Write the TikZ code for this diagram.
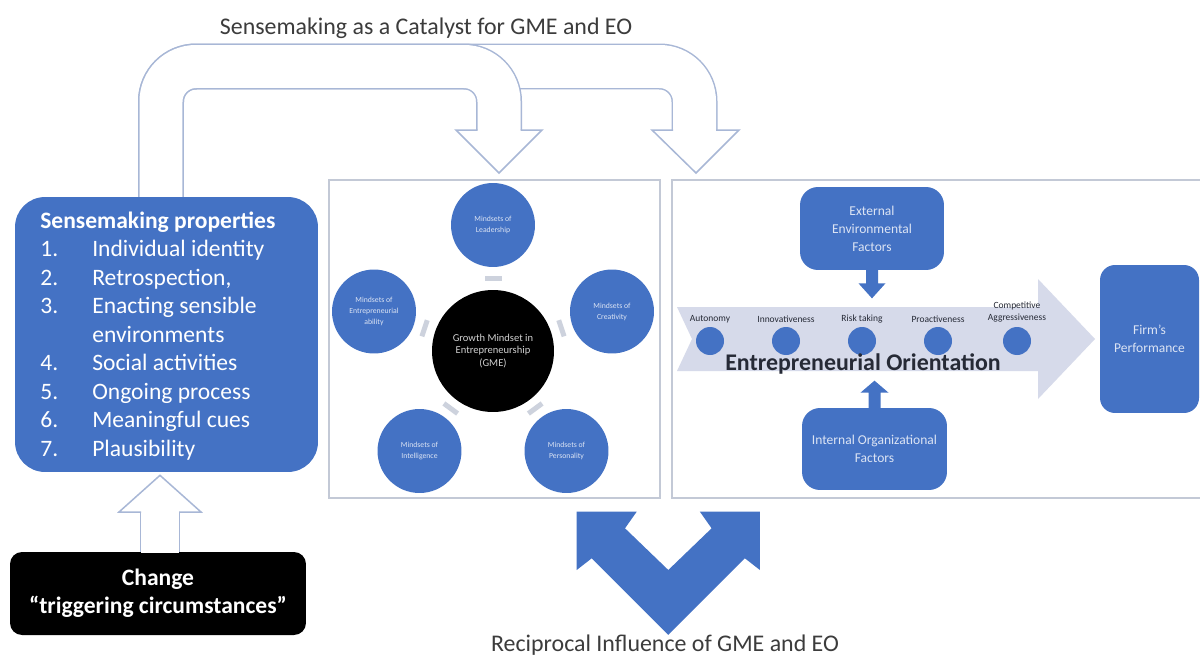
\documentclass[tikz,border=0pt]{standalone}
\usepackage{fontspec}
\setmainfont{Carlito}
\usetikzlibrary{calc}
\definecolor{blu}{HTML}{4472C4}
\definecolor{outl}{HTML}{A8B7D6}
\definecolor{panel}{HTML}{C3C9D6}
\definecolor{band}{HTML}{D6DAEA}
\definecolor{lighttxt}{HTML}{DCE4F4}
\definecolor{darktxt}{HTML}{262A36}
\definecolor{captxt}{HTML}{3C3C3C}
\definecolor{barcol}{HTML}{CDD2DD}
\begin{document}
\begin{tikzpicture}[x=0.02cm, y=-0.02cm,
  every node/.style={inner sep=0pt},
  bluebox/.style={fill=blu, text=lighttxt, align=center, font=\fontsize{7.7}{10.2}\selectfont},
  panelbox/.style={draw=panel, line width=0.9pt, fill=white},
  bcirc/.style={circle, fill=blu, minimum size=1.68cm, text=lighttxt, align=center, font=\fontsize{4.4}{6.2}\selectfont},
  dotc/.style={circle, fill=blu, minimum size=0.56cm},
  eolab/.style={text=darktxt, align=center, font=\fontsize{5.4}{6.6}\selectfont},
  linkbar/.style={fill=barcol, minimum width=0.1cm, minimum height=0.34cm, sloped},
  hollowhead/.style={draw=outl, line width=0.03cm, fill=white, line join=miter},
  shaftout/.style={draw=outl, line width=0.92cm, rounded corners=0.7cm},
  shaftin/.style={draw=white, line width=0.86cm, rounded corners=0.7cm},
  caption/.style={text=captxt, font=\fontsize{13.6}{16}\selectfont},
]
\useasboundingbox (0,0) rectangle (1200,659);
\fill[white] (0,0) rectangle (1200,659);

% captions
\node[caption] (title) at (426,28) {Sensemaking as a Catalyst for GME and EO};
\node[caption] (bottom) at (665,645) {Reciprocal Influence of GME and EO};

% U-turn arrow towards the EO panel (behind)
\draw[shaftout] (161,205) -- (161,66.5) -- (694.5,66.5) -- (694.5,130);
\draw[shaftin] (161,206) -- (161,66.5) -- (694.5,66.5) -- (694.5,131);
\path[hollowhead, draw=none] (673,130) -- (652,130) -- (696,173) -- (739,130) -- (716,130) -- cycle;
\draw[hollowhead, fill=none] (673,130) -- (652,130) -- (696,173) -- (739,130) -- (716,130);

% U-turn arrow towards the GME panel (front)
\draw[shaftout] (161,205) -- (161,66.5) -- (499,66.5) -- (499,130);
\draw[shaftin] (161,206) -- (161,66.5) -- (499,66.5) -- (499,131);
\path[hollowhead, draw=none] (477.5,130) -- (456,130) -- (499,173) -- (542,130) -- (520.5,130) -- cycle;
\draw[hollowhead, fill=none] (477.5,130) -- (456,130) -- (499,173) -- (542,130) -- (520.5,130);

% sensemaking properties box
\node[fill=blu, rounded corners=0.6cm, minimum width=6.06cm, minimum height=5.5cm] (sm) at (166.5,334.5) {};
\node[anchor=north west, align=left, text=white, font=\fontsize{13.4}{16.2}\selectfont] (smtext) at (40,211.5)
  {\textbf{Sensemaking properties}\\
   \makebox[1.04cm][l]{1.}Individual identity\\
   \makebox[1.04cm][l]{2.}Retrospection,\\
   \makebox[1.04cm][l]{3.}Enacting sensible\\
   \makebox[1.04cm][l]{}environments\\
   \makebox[1.04cm][l]{4.}Social activities\\
   \makebox[1.04cm][l]{5.}Ongoing process\\
   \makebox[1.04cm][l]{6.}Meaningful cues\\
   \makebox[1.04cm][l]{7.}Plausibility};

% change box
\node[fill=black, rounded corners=0.24cm, minimum width=5.92cm, minimum height=1.66cm, text=white, align=center,
      font=\bfseries\fontsize{13.4}{15.9}\selectfont] (chg) at (158,593.5) {Change\\``triggering circumstances''};

% hollow arrow from change to sensemaking
\draw[draw=outl, line width=0.82cm] ($(chg.north)+(2,0)$) -- (160,512);
\draw[draw=white, line width=0.76cm] ($(chg.north)+(2,1)$) -- (160,511);
\path[hollowhead, draw=none] (141,512) -- (119,512) -- ($(sm.south)+(-6.5,3)$) -- (201,512) -- (179,512) -- cycle;
\draw[hollowhead, fill=none] (141,512) -- (119,512) -- ($(sm.south)+(-6.5,3)$) -- (201,512) -- (179,512);

% panels
\node[panelbox, minimum width=6.62cm, minimum height=6.36cm] (gmepanel) at (494.5,339) {};
\node[panelbox, minimum width=10.68cm, minimum height=6.36cm] (eopanel) at (939,339) {};

% GME radial
\node[circle, fill=black, minimum size=2.44cm, text=white!82!black, align=center, font=\fontsize{6}{6.9}\selectfont]
  (gme) at (493,351) {Growth Mindset in\\Entrepreneurship\\(GME)};
\node[bcirc] (lead) at (493,225) {Mindsets of\\Leadership};
\node[bcirc] (crea) at (612,311.5) {Mindsets of\\Creativity};
\node[bcirc] (pers) at (566.5,451) {Mindsets of\\Personality};
\node[bcirc] (intl) at (419.5,451) {Mindsets of\\Intelligence};
\node[bcirc] (entr) at (374,311.5) {Mindsets of\\Entrepreneurial\\ability};
\foreach \o in {lead,crea,pers,intl,entr}
  \path (gme.center) -- node[linkbar, pos=0.575] {} (\o.center);

% EO band arrow
\fill[band] (677,307) -- (1038,307) -- (1038,279) -- (1095,339) -- (1038,399) -- (1038,371) -- (677,371) -- (692,339) -- cycle;
\node[dotc] (eo1) at (710,341) {};
\node[dotc] (eo2) at (786,341) {};
\node[dotc] (eo3) at (862,341) {};
\node[dotc] (eo4) at (938,341) {};
\node[dotc] (eo5) at (1017,341) {};
\node[eolab] (l1) at (710,319) {Autonomy};
\node[eolab] (l2) at (786,319) {Innovativeness};
\node[eolab] (l3) at (862,319) {Risk taking};
\node[eolab] (l4) at (938,319) {Proactiveness};
\node[eolab] (l5) at (1017,312) {Competitive\\Aggressiveness};
\node[text=darktxt, font=\bfseries\fontsize{13.6}{16}\selectfont] (eotitle) at (863,364) {Entrepreneurial Orientation};

% factor boxes with their block arrows
\node[bluebox, rounded corners=0.36cm, minimum width=2.88cm, minimum height=1.66cm] (ext) at (872,228.5) {External\\Environmental\\Factors};
\node[bluebox, rounded corners=0.36cm, minimum width=2.9cm, minimum height=1.64cm] (int) at (874.5,449) {Internal Organizational\\Factors};
\fill[blu] ($(ext.south)+(-6,-1)$) -- ($(ext.south)+(-6,13)$) -- ($(ext.south)+(-13.5,13)$) -- ($(ext.south)+(0,28)$)
  -- ($(ext.south)+(13.5,13)$) -- ($(ext.south)+(6,13)$) -- ($(ext.south)+(6,-1)$) -- cycle;
\fill[blu] ($(int.north)+(-6,1)$) -- ($(int.north)+(-6,-15)$) -- ($(int.north)+(-14,-15)$) -- ($(int.north)+(0,-27)$)
  -- ($(int.north)+(14,-15)$) -- ($(int.north)+(6,-15)$) -- ($(int.north)+(6,1)$) -- cycle;

% firm performance
\node[bluebox, rounded corners=0.3cm, minimum width=1.98cm, minimum height=2.96cm] (firm) at (1149.5,339) {Firm's\\Performance};

% reciprocal V double arrow
\fill[blu] (576.7,511.7) -- (636.7,511.7) -- (625,528.3) -- (668.3,570) -- (711.6,528.3) -- (699.9,511.7)
  -- (759.9,511.7) -- (759.9,570) -- (744.9,558.3) -- (668.3,634.9) -- (591.7,558.3) -- (576.7,570) -- cycle;
\end{tikzpicture}
\end{document}
